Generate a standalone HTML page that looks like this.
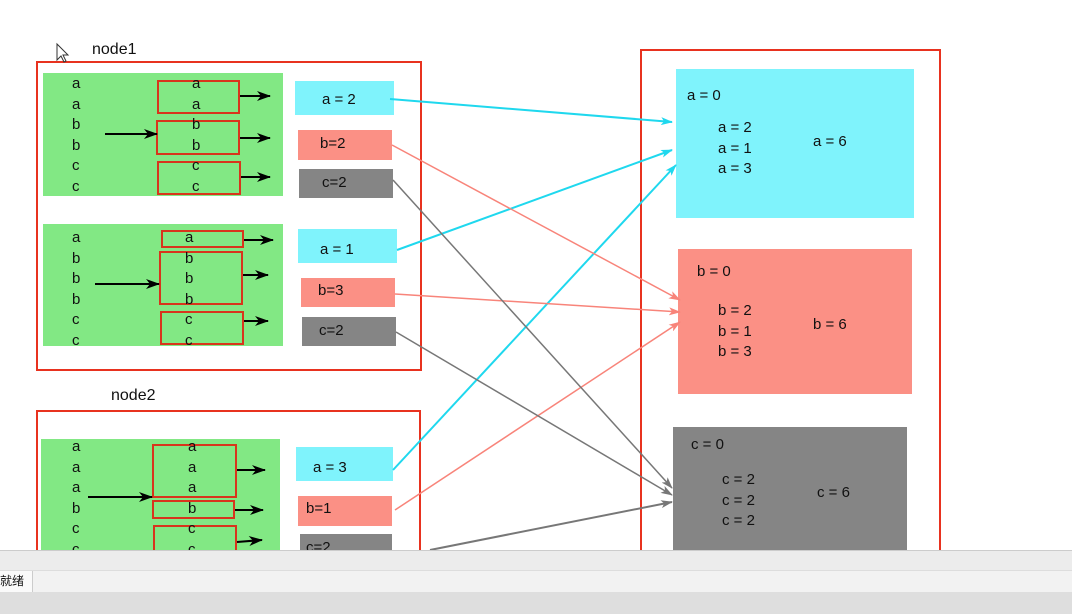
<!DOCTYPE html>
<html><head><meta charset="utf-8"><style>
body{margin:0;width:1072px;height:614px;overflow:hidden;background:#fff;position:relative;font-family:"Liberation Sans","Noto Sans CJK SC",sans-serif;}
div{position:absolute;box-sizing:border-box;white-space:nowrap}
#txt{left:0;top:0;width:1072px;height:614px}
.fr{border:2px solid #e8321f}
.g{background:#82e884}
.rb{border:2px solid #d8351c}
.t{font-size:15px;color:#111;line-height:1}
.cy{background:#7ff3fc}.sa{background:#fb9085}.gr{background:#858585}
svg{position:absolute;left:0;top:0}
</style></head><body>
<div class="t" style="left:92px;top:42px;font-size:16px">node1</div>
<div class="t" style="left:111px;top:388px;font-size:16px">node2</div>
<div class="fr" style="left:36px;top:61px;width:386px;height:310px"></div>
<div class="fr" style="left:36px;top:410px;width:385px;height:160px"></div>
<div class="fr" style="left:640px;top:49px;width:301px;height:520px"></div>
<div class="g" style="left:43px;top:73px;width:240px;height:123px"></div>
<div class="g" style="left:43px;top:224px;width:240px;height:122px"></div>
<div class="g" style="left:41px;top:439px;width:239px;height:120px"></div>
<div class="rb" style="left:157px;top:80px;width:83px;height:34px"></div>
<div class="rb" style="left:156px;top:120px;width:84px;height:35px"></div>
<div class="rb" style="left:157px;top:161px;width:84px;height:34px"></div>
<div class="rb" style="left:161px;top:230px;width:83px;height:18px"></div>
<div class="rb" style="left:159px;top:251px;width:84px;height:54px"></div>
<div class="rb" style="left:160px;top:311px;width:84px;height:34px"></div>
<div class="rb" style="left:152px;top:444px;width:85px;height:54px"></div>
<div class="rb" style="left:152px;top:500px;width:83px;height:19px"></div>
<div class="rb" style="left:153px;top:525px;width:84px;height:34px"></div>
<div class="cy t" style="left:295px;top:81px;width:99px;height:34px;padding:11px 0 0 27px">a = 2</div>
<div class="sa t" style="left:298px;top:130px;width:94px;height:30px;padding:6px 0 0 22px">b=2</div>
<div class="gr t" style="left:299px;top:169px;width:94px;height:29px;padding:6px 0 0 23px">c=2</div>
<div class="cy t" style="left:298px;top:229px;width:99px;height:34px;padding:13px 0 0 22px">a = 1</div>
<div class="sa t" style="left:301px;top:278px;width:94px;height:29px;padding:5px 0 0 17px">b=3</div>
<div class="gr t" style="left:302px;top:317px;width:94px;height:29px;padding:6px 0 0 17px">c=2</div>
<div class="cy t" style="left:296px;top:447px;width:97px;height:34px;padding:13px 0 0 17px">a = 3</div>
<div class="sa t" style="left:298px;top:496px;width:94px;height:30px;padding:5px 0 0 8px">b=1</div>
<div class="gr t" style="left:300px;top:534px;width:92px;height:25px;padding:6px 0 0 6px">c=2</div>
<div class="cy" style="left:676px;top:69px;width:238px;height:149px"></div>
<div class="sa" style="left:678px;top:249px;width:234px;height:145px"></div>
<div class="gr" style="left:673px;top:427px;width:234px;height:130px"></div>
<div id="txt"></div>
<svg width="1072" height="614">
<defs>
<marker id="k" markerWidth="14" markerHeight="10" refX="13" refY="5" orient="auto" markerUnits="userSpaceOnUse"><path d="M0,0L14,5L0,10L4,5z" fill="#000"/></marker>
<marker id="mc" markerWidth="12" markerHeight="8" refX="11" refY="4" orient="auto" markerUnits="userSpaceOnUse"><path d="M0,0L12,4L0,8L3,4z" fill="#1fd8ee"/></marker>
<marker id="ms" markerWidth="12" markerHeight="8" refX="11" refY="4" orient="auto" markerUnits="userSpaceOnUse"><path d="M0,0L12,4L0,8L3,4z" fill="#f8847a"/></marker>
<marker id="mg" markerWidth="12" markerHeight="8" refX="11" refY="4" orient="auto" markerUnits="userSpaceOnUse"><path d="M0,0L12,4L0,8L3,4z" fill="#777"/></marker>
</defs>
<g stroke="#000" stroke-width="2" marker-end="url(#k)">
<line x1="105" y1="134" x2="157" y2="134"/><line x1="95" y1="284" x2="159" y2="284"/><line x1="88" y1="497" x2="152" y2="497"/>
<line x1="240" y1="96" x2="270" y2="96"/><line x1="240" y1="138" x2="270" y2="138"/><line x1="241" y1="177" x2="270" y2="177"/>
<line x1="244" y1="240" x2="273" y2="240"/><line x1="243" y1="275" x2="268" y2="275"/><line x1="244" y1="321" x2="268" y2="321"/>
<line x1="237" y1="470" x2="265" y2="470"/><line x1="235" y1="510" x2="263" y2="510"/><line x1="237" y1="542" x2="262" y2="540"/>
</g>
<g stroke-width="2" fill="none">
<line x1="390" y1="99" x2="672" y2="122" stroke="#1fd8ee" marker-end="url(#mc)"/>
<line x1="397" y1="250" x2="672" y2="150" stroke="#1fd8ee" marker-end="url(#mc)"/>
<line x1="393" y1="470" x2="676" y2="165" stroke="#1fd8ee" marker-end="url(#mc)"/>
<line x1="392" y1="145" x2="680" y2="300" stroke="#f8847a" stroke-width="1.5" marker-end="url(#ms)"/>
<line x1="395" y1="294" x2="680" y2="312" stroke="#f8847a" stroke-width="1.5" marker-end="url(#ms)"/>
<line x1="395" y1="510" x2="680" y2="322" stroke="#f8847a" stroke-width="1.5" marker-end="url(#ms)"/>
<line x1="393" y1="180" x2="672" y2="488" stroke="#777" stroke-width="1.5" marker-end="url(#mg)"/>
<line x1="396" y1="332" x2="672" y2="495" stroke="#777" stroke-width="1.5" marker-end="url(#mg)"/>
<line x1="430" y1="550" x2="672" y2="502" stroke="#777" marker-end="url(#mg)"/>
</g>
<path d="M57,44 L57,60 L61,56 L64,62 L66,61 L63,55 L68,55 Z" fill="#fff" stroke="#333"/>
</svg>
<div style="left:0;top:550px;width:1072px;height:20px;background:#ececec;border-top:1px solid #ccc"></div>
<div style="left:0;top:570px;width:1072px;height:22px;background:#f2f2f2;border-top:1px solid #ddd"></div>
<div class="t" style="left:0;top:571px;width:33px;height:21px;background:#fafafa;border-right:1px solid #ccc;font-size:12px;padding-top:4px">就绪</div>
<div style="left:0;top:592px;width:1072px;height:22px;background:#dedede"></div>
<script>
const lettersLeft=[["a","a","b","b","c","c"],["a","b","b","b","c","c"],["a","a","a","b","c","c"]];
const lettersBox=[["a","a","b","b","c","c"],["a","b","b","b","c","c"],["a","a","a","b","c","c"]];
const rowTops=[76,230,439];
const boxX=[192,185,188];
const T=document.getElementById('txt');
function add(s,x,y,name,fs){const d=document.createElement('div');d.className='t';d.textContent=s;d.style.left=x+'px';d.style.top=y+'px';if(fs)d.style.fontSize=fs+'px';


T.appendChild(d);}
lettersLeft.forEach((arr,i)=>arr.forEach((s,j)=>{add(s,72,rowTops[i]+j*20.5,'record-letter');add(lettersBox[i][j],boxX[i],rowTops[i]+j*20.5,'grouped-letter');}));
const resultKeys=["a","b","c"];
const resultVals=[[2,1,3],[2,1,3],[2,2,2]];
const resultTotals=[6,6,6];
const rX=[[687,718,813],[697,718,813],[691,722,817]];
const rY=[[88,120,134],[264,303,317],[437,472,485]];
resultKeys.forEach((k,i)=>{add(k+" = 0",rX[i][0],rY[i][0],'initial-value');
resultVals[i].forEach((v,j)=>add(k+" = "+v,rX[i][1],rY[i][1]+j*20.5,'partial-value'));
add(k+" = "+resultTotals[i],rX[i][2],rY[i][2],'total-value');});
</script>
</body></html>
